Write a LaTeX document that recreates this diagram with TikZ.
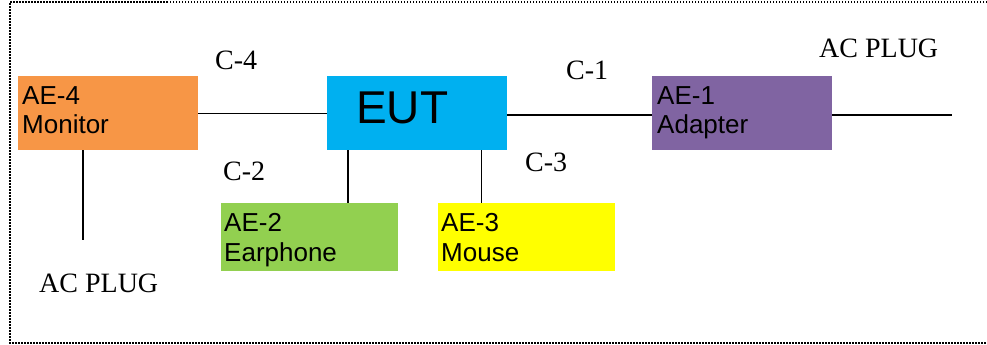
\documentclass[tikz,border=0pt]{standalone}
\usepackage{fontspec}
\setmainfont{Liberation Serif}
\newfontfamily\arialf{Liberation Sans}
\definecolor{cOrange}{HTML}{F79646}
\definecolor{cBlue}{HTML}{00B0F0}
\definecolor{cPurple}{HTML}{8064A2}
\definecolor{cGreen}{HTML}{92D050}
\definecolor{cYellow}{HTML}{FFFF00}
\begin{document}
\begin{tikzpicture}[x=1pt,y=-1pt,
  boxnode/.style={draw=none,rectangle,inner sep=0pt,anchor=north west},
  sanslabel/.style={anchor=base west,inner sep=0pt,font=\arialf\fontsize{26}{29}\selectfont},
  seriflabel/.style={anchor=base west,inner sep=0pt,font=\fontsize{28}{31}\selectfont},
  wire/.style={line width=1.4pt,draw=black},
  frame/.style={line width=1.5pt,dash pattern=on 1.5pt off 1.5pt}]
\useasboundingbox (0,0) rectangle (987,345);
\draw[frame] (987,2) -- (10,2) -- (10,343) -- (987,343);
% boxes
\node[boxnode,fill=cOrange,minimum width=180pt,minimum height=74pt] (ae4) at (18,76) {};
\node[boxnode,fill=cBlue,minimum width=180pt,minimum height=74pt] (eut) at (327,76) {};
\node[boxnode,fill=cPurple,minimum width=180pt,minimum height=74pt] (ae1) at (652,76) {};
\node[boxnode,fill=cGreen,minimum width=177pt,minimum height=68pt] (ae2) at (221,203) {};
\node[boxnode,fill=cYellow,minimum width=177pt,minimum height=68pt] (ae3) at (438,203) {};
% box texts
\node[sanslabel] (t4a) at (22,104) {AE-4};
\node[sanslabel] (t4b) at (22,133) {Monitor};
\node[anchor=base west,inner sep=0pt,font=\arialf\fontsize{46}{50}\selectfont] (teut) at (356,123) {EUT};
\node[sanslabel] (t1a) at (657,104) {AE-1};
\node[sanslabel] (t1b) at (657,133) {Adapter};
\node[sanslabel] (t2a) at (224,231) {AE-2};
\node[sanslabel] (t2b) at (224,261) {Earphone};
\node[sanslabel] (t3a) at (441,231) {AE-3};
\node[sanslabel] (t3b) at (441,261) {Mouse};
% cable labels
\node[seriflabel] (lc4) at (215,70) {C-4};
\node[seriflabel] (lc2) at (223,180) {C-2};
\node[seriflabel] (lc3) at (525,171) {C-3};
\node[seriflabel] (lc1) at (566,79) {C-1};
\node[seriflabel] (plugRt) at (819,58) {AC PLUG};
\node[seriflabel] (plugLt) at (39,292) {AC PLUG};
% free ends
\coordinate (plugL) at (83,240);
\coordinate (plugR) at (952,115);
% connectors
\draw[wire] (ae4.east) -- (eut.west);
\draw[wire] (eut.east |- plugR) -- (ae1.west |- plugR);
\draw[wire] (ae1.east |- plugR) -- (plugR);
\draw[wire] (ae4.south -| plugL) -- (plugL);
\draw[wire] ([xshift=21pt]eut.south west) -- ([xshift=21pt]eut.south west |- ae2.north);
\draw[wire] ([xshift=-26pt]eut.south east) -- ([xshift=-26pt]eut.south east |- ae3.north);
\end{tikzpicture}
\end{document}
